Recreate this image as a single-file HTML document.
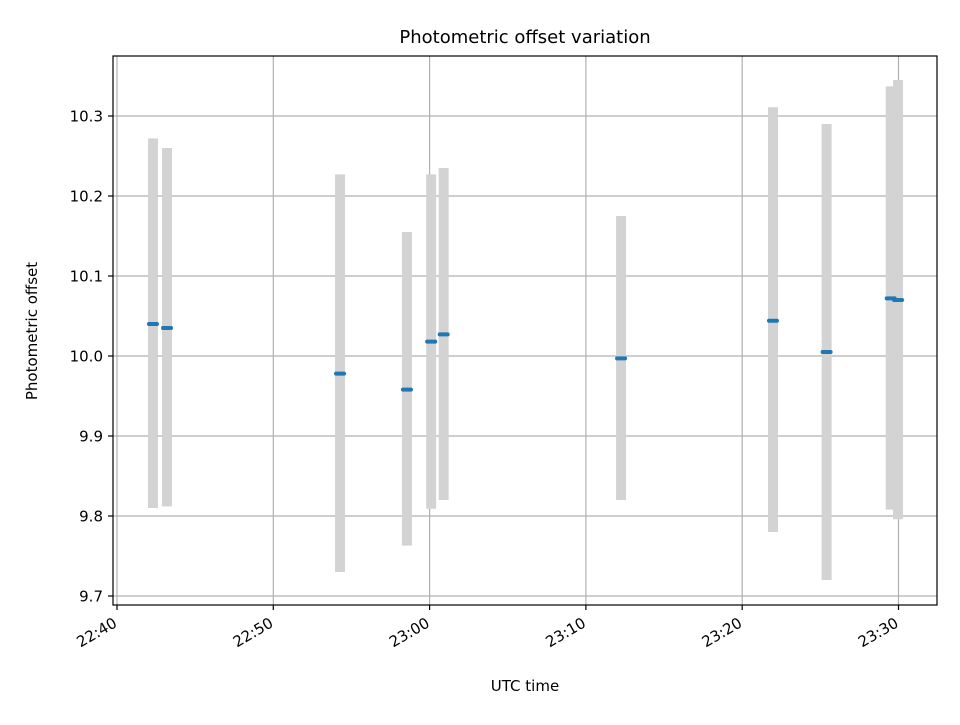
<!DOCTYPE html>
<html><head><meta charset="utf-8"><style>
body{margin:0;background:#fff}
svg{font-family:"DejaVu Sans","Liberation Sans",sans-serif}
</style></head><body>
<svg width="960" height="720" viewBox="0 0 960 720">
<rect x="0" y="0" width="960" height="720" fill="#fff"/>
<g id="grid"></g>
<g id="errs"></g>
<g id="pts"></g>
<rect x="113" y="56" width="824" height="549" fill="none" stroke="#000" stroke-width="1.2"/>
<g id="axes"></g>
<text x="525" y="43" font-size="18" text-anchor="middle">Photometric offset variation</text>
<text x="525" y="691" font-size="15" text-anchor="middle">UTC time</text>
<text x="37" y="331" font-size="15" text-anchor="middle" transform="rotate(-90 37 331)">Photometric offset</text>
</svg>
<script>
// minutes after 22:40
const times=[2.3,3.2,14.27,18.55,20.1,20.9,32.25,41.97,45.4,49.5,49.97];
const values=[10.040,10.035,9.978,9.958,10.018,10.027,9.997,10.044,10.005,10.072,10.070];
const errTop=[10.272,10.260,10.227,10.155,10.227,10.235,10.175,10.311,10.290,10.337,10.345];
const errBottom=[9.810,9.812,9.730,9.763,9.809,9.820,9.820,9.780,9.720,9.808,9.796];
const xTickMinutes=[0,10,20,30,40,50];
const xTickLabels=["22:40","22:50","23:00","23:10","23:20","23:30"];
const yTicks=[9.7,9.8,9.9,10.0,10.1,10.2,10.3];
const yTickLabels=["9.7","9.8","9.9","10.0","10.1","10.2","10.3"];

const NS="http://www.w3.org/2000/svg";
const xs=m=>117+m*15.63;
const ys=v=>356-(v-10)*800;
function mk(tag,attrs,parent){const e=document.createElementNS(NS,tag);for(const k in attrs)e.setAttribute(k,attrs[k]);parent.appendChild(e);return e;}
const grid=document.getElementById('grid'),axes=document.getElementById('axes'),errs=document.getElementById('errs'),pts=document.getElementById('pts');
xTickMinutes.forEach((m,i)=>{
  const x=xs(m);
  const g=mk('line',{x1:x,x2:x,y1:56,y2:605,stroke:'#b0b0b0','stroke-width':1.2},grid);
  
  
  const t=mk('line',{x1:x,x2:x,y1:605,y2:610,stroke:'#000','stroke-width':1.2},axes);
  
  
  const l=mk('text',{x:x+1,y:626,'font-size':15,'text-anchor':'end',transform:`rotate(-30 ${x+1} 626)`},axes);
  l.textContent=xTickLabels[i];
  
  
});
yTicks.forEach((v,i)=>{
  const y=ys(v);
  const g=mk('line',{x1:113,x2:937,y1:y,y2:y,stroke:'#b0b0b0','stroke-width':1.2},grid);
  
  
  const t=mk('line',{x1:108,x2:113,y1:y,y2:y,stroke:'#000','stroke-width':1.2},axes);
  
  
  const l=mk('text',{x:103,y:y+5.5,'font-size':15,'text-anchor':'end'},axes);
  l.textContent=yTickLabels[i];
  
  
});
times.forEach((m,i)=>{
  const x=xs(m);
  const e=mk('line',{x1:x,x2:x,y1:ys(errTop[i]),y2:ys(errBottom[i]),stroke:'#d3d3d3','stroke-width':10},errs);
  
  
  const p=mk('line',{x1:x-4,x2:x+4,y1:ys(values[i]),y2:ys(values[i]),stroke:'#1f77b4','stroke-width':4,'stroke-linecap':'round'},pts);
  
  
});
</script>
</body></html>
